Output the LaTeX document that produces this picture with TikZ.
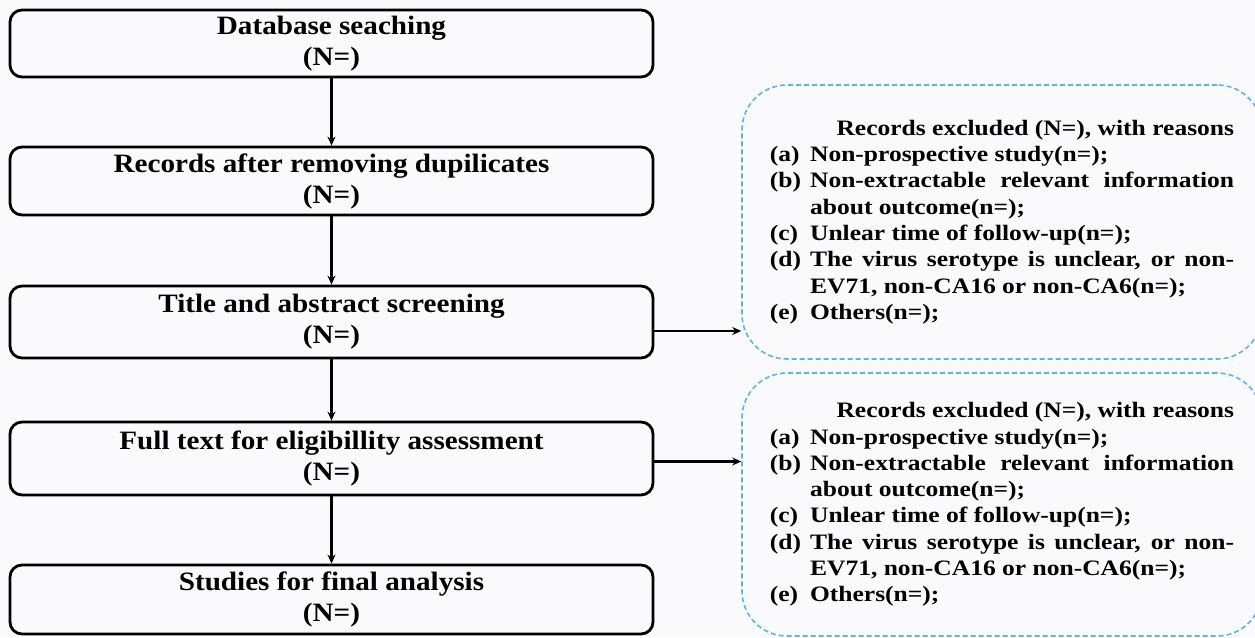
\documentclass[tikz,border=0pt]{standalone}
\usepackage{fontspec}
\setmainfont{Liberation Serif}[FakeStretch=1.16]
\newfontfamily\stagefont{Liberation Serif}[FakeStretch=1.1]
\usepackage{array}
\definecolor{dashblue}{RGB}{86,182,234}
\definecolor{paper}{RGB}{250,250,253}
\usetikzlibrary{arrows.meta, positioning, calc}

\newcommand{\reasonlist}{%
  \begin{tabular}{@{}l@{\hspace{9pt}}p{424pt}@{}}
    \multicolumn{2}{@{}r@{}}{Records excluded (N=), with reasons}\\
    (a) & Non-prospective study(n=);\\
    (b) & Non-extractable relevant information\linebreak about outcome(n=);\\
    (c) & Unlear time of follow-up(n=);\\
    (d) & The virus serotype is unclear, or non-\linebreak EV71, non-CA16 or non-CA6(n=);\\
    (e) & Others(n=);
  \end{tabular}}

\begin{document}
\begin{tikzpicture}[x=1pt, y=-1pt,
  stage/.style={draw, line width=2.8pt, rounded corners=12pt, minimum width=643pt,
    inner sep=0pt, align=center, font=\stagefont\fontsize{26.5}{31}\selectfont\bfseries},
  exclbox/.style={draw=dashblue, line width=1.6pt, dash pattern=on 5pt off 3pt,
    rounded corners=45pt, minimum width=520pt, inner sep=0pt,
    font=\fontsize{22}{26.3}\selectfont\bfseries},
  flow/.style={line width=2.4pt, -{Stealth[length=9pt, width=8pt]}}]
  % Page
  \fill[paper] (0,0) rectangle (1255,637);
  \useasboundingbox (0,0) rectangle (1255,637);

  % Main stages
  \node[stage, minimum height=67pt] (search) at (331.5,43.5) {Database seaching\\(N=)};
  \node[stage, minimum height=68pt] (dedup) at (331.5,181) {Records after removing dupilicates\\(N=)};
  \node[stage, minimum height=72pt] (screen) at (331.5,322) {Title and abstract screening\\(N=)};
  \node[stage, minimum height=73pt] (fulltext) at (331.5,458.5) {Full text for eligibillity assessment\\(N=)};
  \node[stage, minimum height=69pt] (final) at (331.5,599.5) {Studies for final analysis\\(N=)};

  % Exclusion boxes
  \node[exclbox, minimum height=274pt] (exclA) at (1002,222) {\reasonlist};
  \node[exclbox, minimum height=263pt] (exclB) at (1002,504.5) {\reasonlist};

  % Arrows
  \draw[flow] (search) -- (dedup);
  \draw[flow] (dedup) -- (screen);
  \draw[flow] (screen) -- (fulltext);
  \draw[flow] (fulltext) -- (final);
  \draw[flow] ([yshift=-9pt]screen.east) -- ([yshift=-9pt]screen.east -| exclA.west);
  \draw[flow] ([yshift=-3pt]fulltext.east) -- ([yshift=-3pt]fulltext.east -| exclB.west);
\end{tikzpicture}
\end{document}
